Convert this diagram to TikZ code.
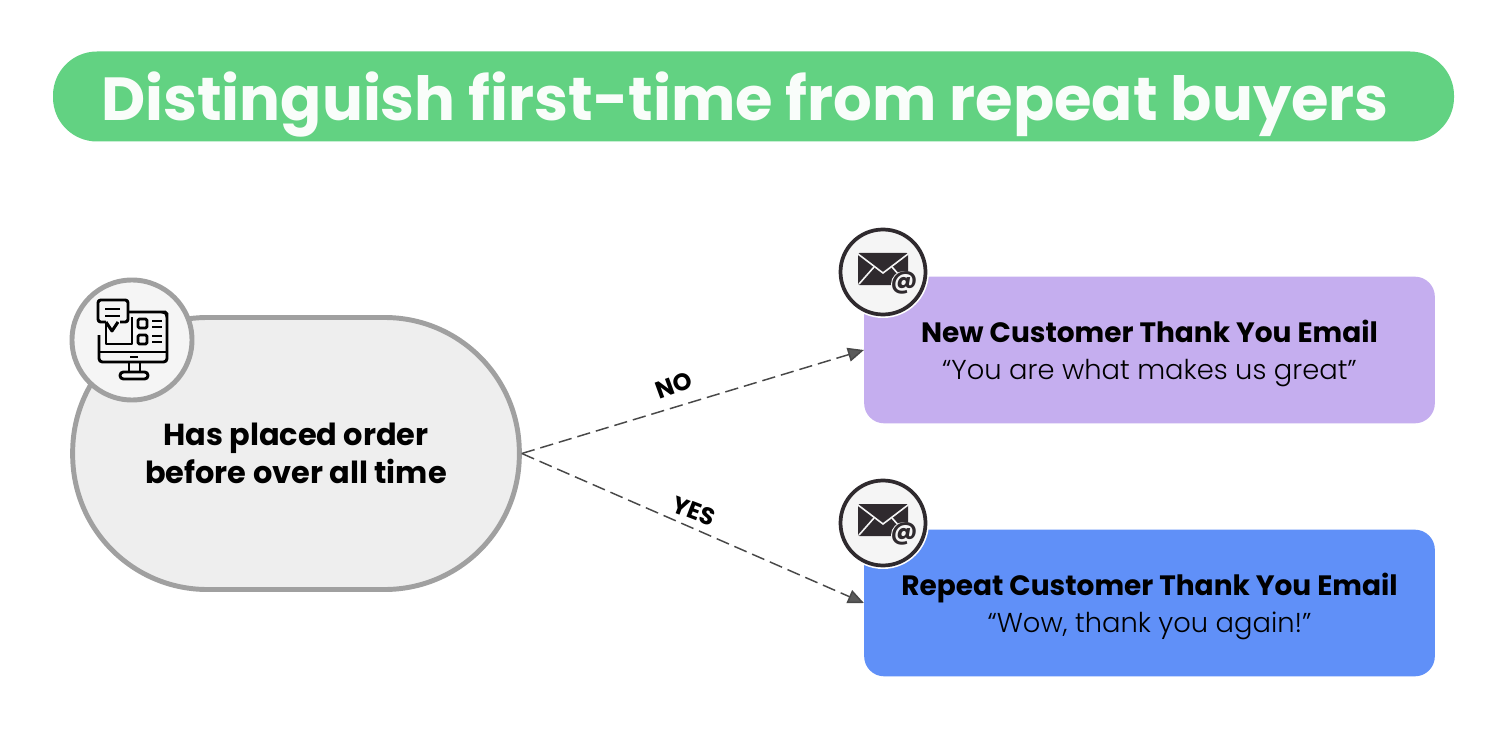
\documentclass[tikz,border=0pt]{standalone}
\usepackage{fontspec}
\setmainfont{Poppins}
\newfontfamily\quotefont{Poppins Light}
\usetikzlibrary{arrows.meta}
\definecolor{titlegreen}{HTML}{62D282}
\definecolor{newpurple}{HTML}{C5AEEF}
\definecolor{repeatblue}{HTML}{6090F8}
\definecolor{pillgray}{HTML}{EEEEEE}
\definecolor{rimgray}{HTML}{A0A0A0}
\definecolor{inkdark}{HTML}{2F2A2E}
\definecolor{linkgray}{HTML}{484848}
\tikzset{
  mailbox/.style={draw=none,rounded corners=15pt,minimum width=428pt,minimum height=110pt,inner sep=0pt},
  mailtext/.style={inner sep=0pt,align=center,text=black,font=\fontsize{20.5}{27.5}\selectfont},
  answer/.style={inner sep=0pt,font=\bfseries\fontsize{18}{20}\selectfont},
  linkdash/.style={draw=linkgray,line width=1.1pt,dash pattern=on 10pt off 4.5pt,-{Triangle[length=12pt,width=10.5pt,fill=linkgray!90]}},
  mailbadge/.pic={
    \fill[white] (0,0) circle (46);
    \draw[inkdark,line width=2.8pt,fill=white!96!black] (0,0) circle (42.5);
    % envelope with its flap
    \fill[inkdark,rounded corners=1pt] (-25,19) rectangle (25,-13);
    \draw[white!96!black,line width=1.2pt] (-25,18) -- (0,-1) -- (25,18);
    \draw[white!96!black,line width=1.2pt] (-24,-12) -- (-9,5) (24,-12) -- (9,5);
    \fill[white!96!black] (21,-12) circle (13);
    \node[inkdark,inner sep=0pt,font=\bfseries\fontsize{19}{19}\selectfont] at (21,-11) {@};
  }
}
\begin{document}
\begin{tikzpicture}[x=0.75pt,y=0.75pt,yscale=-1,xscale=1]
\useasboundingbox (0,0) rectangle (1500,738);
\fill[white] (0,0) rectangle (1500,738);

% Title
\node (title) [fill=titlegreen,rounded corners=33pt,minimum width=1050.75pt,minimum height=67.5pt,inner sep=0pt] at (753.5,96.5) {};
\node (titletext) [text=white!96!titlegreen,inner sep=0pt,font=\bfseries\fontsize{45.6}{50}\selectfont] at (745,105) {Distinguish first-time from repeat buyers};

% Condition pill
\node (order) [draw=rimgray,fill=pillgray,line width=3.7pt,rounded corners=101pt,minimum width=335pt,minimum height=204pt,inner sep=0pt,align=center,font=\bfseries\fontsize{22.8}{28}\selectfont] at (296,453.5) {Has placed order\\before over all time};

% Mail boxes
\node (newmail) [mailbox,fill=newpurple] at (1149.5,350) {};
\node (repeatmail) [mailbox,fill=repeatblue] at (1149.5,603) {};
\node (newtext) [mailtext] at (1149.5,353.5) {{\bfseries\fontsize{21}{27.5}\selectfont New Customer Thank You Email}\\{\quotefont “You are what makes us great”}};
\node (repeattext) [mailtext] at (1149.5,606.5) {{\bfseries\fontsize{21}{27.5}\selectfont Repeat Customer Thank You Email}\\{\quotefont “Wow, thank you again!”}};

% Links
\draw[linkdash] (order.east) -- (newmail.west);
\draw[linkdash] (order.east) -- (repeatmail.west);
\node (no) [answer,rotate=20] at (674,385) {NO};
\node (yes) [answer,rotate=-21] at (694,511) {YES};

% Badges
\pic at (883,272) {mailbadge};
\pic at (883,523) {mailbadge};

% Monitor badge
\draw[rimgray,line width=3.7pt,fill=white!96!black] (132,340) circle (60);
\begin{scope}[black,line width=2.2pt,line join=round]
\draw[rounded corners=2.5pt] (128,312) -- (165,312) -- (167,314) -- (167,362) -- (99,362) -- (99,335);
\draw (99,352) -- (167,352);
\draw (106,315) -- (106,344) -- (132,344) -- (132,317);
\draw[rounded corners=2pt,fill=white!96!black] (98,300) rectangle (128,322);
\fill[white!96!black] (106,320) rectangle (120,324);
\draw[line join=round] (106,322) -- (112,331) -- (118,322);
\draw (105,309) -- (120,309) (105,316) -- (120,316);
\draw[rounded corners=1pt] (138,319) rectangle (147,328);
\draw[rounded corners=1pt] (138,335) rectangle (147,344);
\draw (152,321) -- (162,321) (152,327) -- (162,327) (152,336) -- (162,336) (152,342) -- (162,342);
\draw (130,357) -- (138,357);
\draw (129,362) -- (129,372) (140,362) -- (140,372);
\draw[rounded corners=2.5pt] (120,372) rectangle (148,379);
\end{scope}
\end{tikzpicture}
\end{document}
